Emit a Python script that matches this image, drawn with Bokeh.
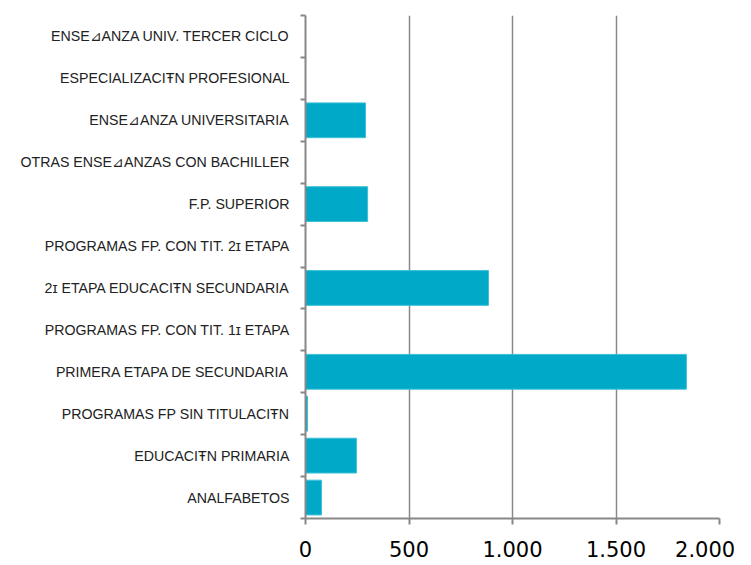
from bokeh.plotting import figure
from bokeh.models import FixedTicker, Range1d, ColumnDataSource
from bokeh.embed import file_html
from bokeh.resources import INLINE

categories = [
    "ANALFABETOS",
    "EDUCACIŦN PRIMARIA",
    "PROGRAMAS FP SIN TITULACIŦN",
    "PRIMERA ETAPA DE SECUNDARIA",
    "PROGRAMAS FP. CON TIT. 1ɪ ETAPA",
    "2ɪ ETAPA EDUCACIŦN SECUNDARIA",
    "PROGRAMAS FP. CON TIT. 2ɪ ETAPA",
    "F.P. SUPERIOR",
    "OTRAS ENSE⊿ANZAS CON BACHILLER",
    "ENSE⊿ANZA UNIVERSITARIA",
    "ESPECIALIZACIŦN PROFESIONAL",
    "ENSE⊿ANZA UNIV. TERCER CICLO",
]
values = [77, 246, 10, 1840, 0, 884, 0, 300, 0, 290, 0, 0]
x_ticks = [0, 500, 1000, 1500, 2000]
x_tick_labels = ["0", "500", "1.000", "1.500", "2.000\u00a0\u00a0"]

pos = [i + 0.5 for i in range(len(categories))]
src = ColumnDataSource(dict(y=pos, v=values))

p = figure(width=748, height=564, output_backend="svg", toolbar_location=None,
           x_range=Range1d(0, 2000), y_range=Range1d(0, len(categories)),
           min_border_left=305, min_border_right=29, min_border_top=15, min_border_bottom=45)
p.outline_line_color = None

p.hbar(y="y", right="v", left=0, height=0.83, source=src,
       fill_color="#00A9C8", line_color="#3CC0D8", line_width=1)

# x axis
p.xaxis.ticker = FixedTicker(ticks=x_ticks)
p.xaxis.major_label_overrides = {t: l for t, l in zip(x_ticks, x_tick_labels)}
p.xaxis.major_label_text_font = "DejaVu Sans"
p.xaxis.major_label_text_font_size = "21px"
p.xaxis.major_label_text_color = "#000000"
p.xaxis.axis_line_color = "#888888"
p.xaxis.axis_line_width = 2
p.xaxis.major_tick_line_color = "#888888"
p.xaxis.major_tick_line_width = 2
p.xaxis.major_tick_out = 6
p.xaxis.major_tick_in = 0
p.xaxis.minor_tick_line_color = None
p.xaxis.major_label_standoff = 13

# y axis
p.yaxis.ticker = FixedTicker(ticks=pos, minor_ticks=list(range(len(categories) + 1)))
p.yaxis.major_label_overrides = {t: c for t, c in zip(pos, categories)}
p.yaxis.major_label_text_font = "Liberation Sans"
p.yaxis.major_label_text_font_size = "14.2px"
p.yaxis.major_label_text_color = "#222222"
p.yaxis.major_tick_line_color = None
p.yaxis.major_tick_out = 0
p.yaxis.major_tick_in = 0
p.yaxis.minor_tick_line_color = "#888888"
p.yaxis.minor_tick_line_width = 2
p.yaxis.minor_tick_out = 5
p.yaxis.minor_tick_in = 0
p.yaxis.axis_line_color = "#888888"
p.yaxis.axis_line_width = 2
p.yaxis.major_label_standoff = 11

p.xgrid.ticker = FixedTicker(ticks=x_ticks)
p.xgrid.grid_line_color = "#888888"
p.xgrid.grid_line_width = 1.5
p.ygrid.grid_line_color = None

open("out.html", "w").write(file_html(p, INLINE))
